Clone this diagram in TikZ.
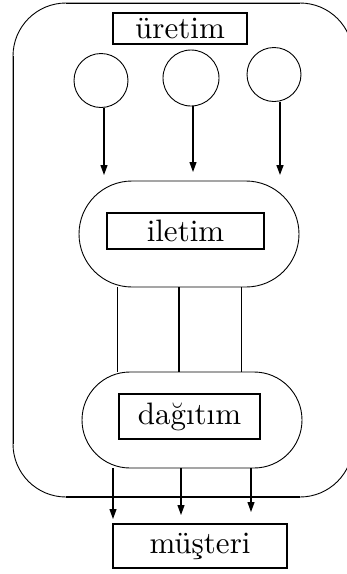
\documentclass[tikz,border=0pt]{standalone}
\usepackage{graphicx}
\usetikzlibrary{arrows.meta,shapes.misc,calc}
\newcommand{\bigtxt}[1]{\scalebox{3.1}{#1}}
\tikzset{
  thinln/.style={line width=0.9pt},
  thickln/.style={line width=1.8pt},
  lbox/.style={draw, line width=1.8pt, inner sep=0pt},
  unit/.style={circle, draw, thinln, inner sep=0pt},
  stage/.style={rounded rectangle, draw, thinln, inner sep=0pt},
  flow/.style={line width=1.1pt, -{Triangle[length=10pt,width=7pt]}},
}
\begin{document}
\begin{tikzpicture}[x=1pt, y=-1pt]
\clip (0,0) rectangle (347,574);

% outer frame: thin rounded corners, heavier straight sides
\draw[thinln, rounded corners=53pt] (13,3) rectangle (353,497);
\draw[thickln] (13.5,56) -- (13.5,444);
\draw[line width=1.3pt] (66,3.5) -- (300,3.5);
\draw[thickln] (66,497) -- (300,497);

% generation
\node[lbox, minimum width=134pt, minimum height=31pt] (ur) at (180,28.5) {\bigtxt{üretim}};
\node[unit, minimum size=54pt] (g1) at (101,80.5) {};
\node[unit, minimum size=56pt] (g2) at (191,78) {};
\node[unit, minimum size=54pt] (g3) at (274,74.5) {};

% transmission
\node[stage, minimum width=220pt, minimum height=106pt] (il) at (189,234) {};
\node[lbox, minimum width=157pt, minimum height=36pt] (ilbox) at (185.5,231) {\bigtxt{iletim}};

% distribution
\node[stage, minimum width=220pt, minimum height=96pt] (dag) at (192,420) {};
\node[lbox, minimum width=141pt, minimum height=45pt] (dagbox) at (189.5,416.5) {\bigtxt{dağıtım}};

% customers
\node[lbox, minimum width=174pt, minimum height=44pt] (mus) at (200,546) {\bigtxt{müşteri}};

% generation feeds transmission
\coordinate (a1) at (104,175);
\coordinate (a2) at (193,172);
\coordinate (a3) at (280,175);
\draw[flow] (a1 |- g1.south) -- (a1);
\draw[flow] (a2 |- g2.south) -- (a2);
\draw[flow, line width=1.5pt] (a3 |- g3.south) -- (a3);

% transmission lines to distribution
\draw[thinln] ($(il.south)+(-72,0)$) -- ($(dag.north)+(-75,0)$);
\draw[line width=1.4pt] ($(il.south)+(-10,0)$) -- ($(dag.north)+(-13,0)$);
\draw[thinln] ($(il.south)+(52,0)$) -- ($(dag.north)+(49,0)$);

% distribution feeds customers
\coordinate (b1) at (113,519);
\coordinate (b2) at (181,515);
\coordinate (b3) at (251,512);
\draw[flow] (b1 |- dag.south) -- (b1);
\draw[flow] (b2 |- dag.south) -- (b2);
\draw[flow] (b3 |- dag.south) -- (b3);
\end{tikzpicture}
\end{document}
